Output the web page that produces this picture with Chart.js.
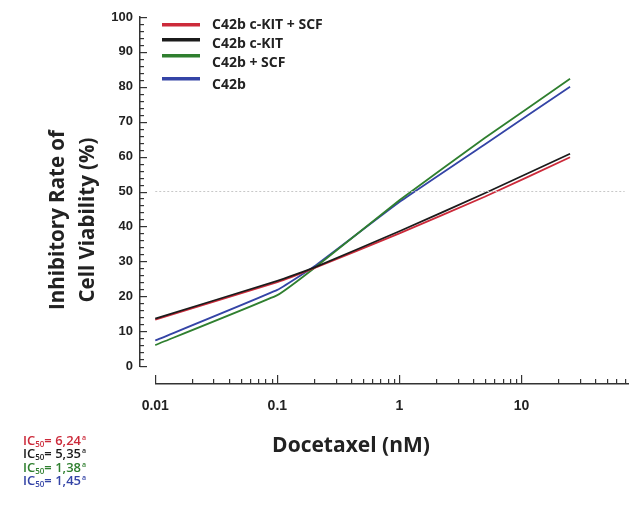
<!DOCTYPE html>
<html>
<head>
<meta charset="utf-8">
<script src="https://cdn.jsdelivr.net/npm/chart.js@4/dist/chart.umd.min.js"></script>
</head>
<body style="margin:0; background:#fff">
<canvas id="c" width="629" height="509"></canvas>
<script>
// ---- data ----
const concentrations = [0.01, 0.1, 0.2, 1, 5, 25];
const seriesLabels = ['C42b c-KIT + SCF', 'C42b c-KIT', 'C42b + SCF', 'C42b'];
const c42bKitScf = [13.3, 24.0, 28.0, 38.0, 48.5, 59.8];
const c42bKit    = [13.6, 24.4, 28.2, 38.6, 49.5, 60.8];
const c42bScf    = [6.0, 20.3, 28.0, 47.5, 65.3, 82.3];
const c42b       = [7.3, 21.8, 28.5, 47.0, 63.5, 80.0];
const ic50Values = ['6,24', '5,35', '1,38', '1,45'];
const xTickValues = [0.01, 0.1, 1, 10];
const xTickLabels = ['0.01', '0.1', '1', '10'];
const yTickValues = [0, 10, 20, 30, 40, 50, 60, 70, 80, 90, 100];
const halfLevel = [50, 50];
const halfLevelX = [0.01, 70];

const colors = ['#cc2a3a', '#1b1b1b', '#2f7f2f', '#3444a6'];

function pts(xs, ys) { return xs.map((x, i) => ({ x: x, y: ys[i] })); }

const seriesData = [c42bKitScf, c42bKit, c42bScf, c42b];
const datasets = [];
datasets.push({
  label: '50%', data: pts(halfLevelX, halfLevel), borderColor: '#c8c8c8',
  borderWidth: 1, borderDash: [2, 2], pointRadius: 0, fill: false
});
[1, 0, 2, 3].forEach(i => {
  datasets.push({
    label: seriesLabels[i], data: pts(concentrations, seriesData[i]),
    borderColor: colors[i], borderWidth: 1.8, pointRadius: 0, tension: 0.1,
    fill: false
  });
});

const axesPlugin = {
  id: 'axesPlugin',
  afterDraw(chart) {
    const ctx = chart.ctx;
    const xs = chart.scales.x, ys = chart.scales.y;
    const yAxisX = Math.round(chart.chartArea.left), xAxisY = 383;
    ctx.save();
    ctx.fillStyle = '#333333';
    // x axis (line + inward ticks)
    const x0 = Math.round(xs.getPixelForValue(0.01));
    ctx.fillRect(x0, xAxisY, chart.width - x0, 1.5);
    for (let d = 0.01; d < 100; d *= 10) {
      for (let m = 1; m <= 9; m++) {
        const v = d * m;
        if (v > xs.max) break;
        const x = Math.round(xs.getPixelForValue(v));
        const len = (m === 1) ? 8 : 4;
        ctx.fillRect(x, xAxisY - len, 1.2, len);
      }
    }
    // y axis inward ticks
    for (let v = 0; v <= 100; v += 2) {
      const y = Math.round(ys.getPixelForValue(v));
      const len = (v % 10 === 0) ? 7 : 4;
      ctx.fillRect(yAxisX, y, len, 1.2);
    }
    // axis titles
    ctx.fillStyle = '#222';
    ctx.font = 'bold 21px "Open Sans"';
    ctx.textAlign = 'center';
    ctx.textBaseline = 'middle';
    ctx.fillText('Docetaxel (nM)', 351, 446);
    ctx.font = 'bold 20.5px "Open Sans"';
    ctx.save();
    ctx.translate(58, 220);
    ctx.rotate(-Math.PI / 2);
    ctx.fillText('Inhibitory Rate of', 0, 0);
    ctx.restore();
    ctx.save();
    ctx.translate(88, 220);
    ctx.rotate(-Math.PI / 2);
    ctx.fillText('Cell Viability (%)', 0, 0);
    ctx.restore();
    // legend
    const lineY = [25, 40, 56, 79];
    const textY = [25, 44, 63, 85];
    ctx.font = 'bold 14px "Open Sans"';
    ctx.textAlign = 'left';
    for (let i = 0; i < seriesLabels.length; i++) {
      ctx.fillStyle = colors[i];
      ctx.fillRect(162, lineY[i] - 2, 38, 3.5);
      ctx.fillStyle = '#222';
      ctx.fillText(seriesLabels[i], 212, textY[i]);
    }
    // IC50 notes
    ctx.textAlign = 'left';
    ctx.textBaseline = 'alphabetic';
    for (let i = 0; i < ic50Values.length; i++) {
      const base = 445 + i * 13.3;
      let x = 23;
      ctx.fillStyle = colors[i];
      ctx.font = '600 13px "Open Sans"';
      ctx.fillText('IC', x, base); x += ctx.measureText('IC').width;
      ctx.font = '600 8px "Open Sans"';
      ctx.fillText('50', x, base + 2); x += ctx.measureText('50').width;
      ctx.font = '600 13px "Open Sans"';
      const t = '= ' + ic50Values[i];
      ctx.fillText(t, x, base); x += ctx.measureText(t).width + 1;
      ctx.font = '600 7px "Open Sans"';
      ctx.fillText('a', x, base - 5);
    }
    ctx.restore();
  }
};

new Chart(document.getElementById('c'), {
  type: 'line',
  data: { datasets: datasets },
  plugins: [axesPlugin],
  options: {
    responsive: false,
    animation: false,
    layout: { padding: { top: 17, left: 0, right: 0, bottom: 0 } },
    plugins: { legend: { display: false }, tooltip: { enabled: false } },
    scales: {
      x: {
        type: 'logarithmic', min: 0.0075, max: 76,
        afterBuildTicks: s => { s.ticks = xTickValues.map(v => ({ value: v })); },
        afterFit: s => { s.height = 143; s.paddingLeft = 0; s.paddingRight = 0; },
        grid: { display: false, drawTicks: false },
        border: { display: false },
        ticks: {
          autoSkip: false, maxRotation: 0, padding: 32,
          color: '#222', font: { family: '"Liberation Sans"', weight: 'bold', size: 14 },
          callback: (v) => { const i = xTickValues.indexOf(v); return i >= 0 ? xTickLabels[i] : ''; }
        }
      },
      y: {
        min: 0, max: 100,
        afterBuildTicks: s => { s.ticks = yTickValues.map(v => ({ value: v })); },
        afterFit: s => { s.width = 140; s.paddingTop = 0; s.paddingBottom = 0; },
        grid: { display: true, drawOnChartArea: false, drawTicks: false },
        border: { display: true, color: '#333333', width: 1.5 },
        ticks: {
          padding: 7, color: '#222',
          font: { family: '"Liberation Sans"', weight: 'bold', size: 13 }
        }
      }
    }
  }
});
</script>
</body>
</html>
